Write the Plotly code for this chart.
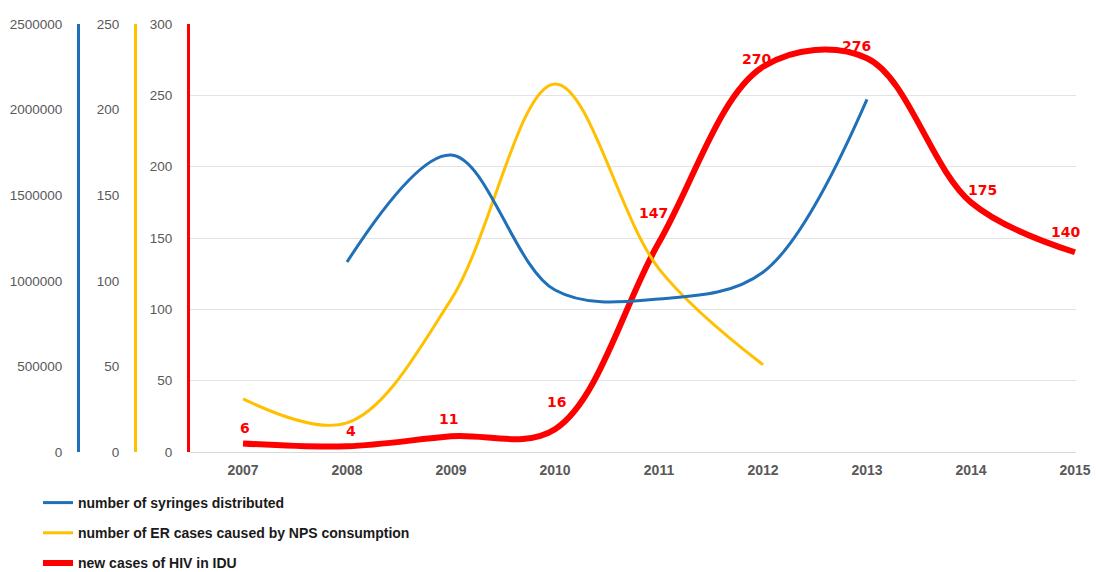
import plotly.graph_objects as go

years = [2007, 2008, 2009, 2010, 2011, 2012, 2013, 2014, 2015]
syringes = [None, 1110000, 1735000, 946000, 894000, 1050000, 2060000, None, None]
er_cases = [31, 17, 89, 215, 107, 51, None, None, None]
hiv_cases = [6, 4, 11, 16, 147, 270, 276, 175, 140]

# label offsets (pixels) for the red data labels
label_dx = [2, 4, -3, 1, -6, -6, -10, 12, -9]
label_dy = [15, 15, 17, 27, 29, 8, 12, 12, 20]

names = ["number of syringes distributed",
         "number of ER cases caused by NPS consumption",
         "new cases of HIV in IDU"]

BLUE = "#1F70B8"
YELLOW = "#FFC000"
RED = "#FF0000"
GREY = "#595959"

fig = go.Figure()
fig.add_trace(go.Scatter(x=years, y=syringes, name=names[0], yaxis="y3", mode="lines",
                         line=dict(color=BLUE, width=3, shape="spline"),
                         connectgaps=False, legendgroup="a"))
fig.add_trace(go.Scatter(x=years, y=er_cases, name=names[1], yaxis="y2", mode="lines",
                         line=dict(color=YELLOW, width=3, shape="spline"),
                         legendgroup="b"))
fig.add_trace(go.Scatter(x=years, y=hiv_cases, name=names[2], yaxis="y", mode="lines",
                         line=dict(color=RED, width=6, shape="spline"),
                         legendgroup="c"))

for x, y, dx, dy in zip(years, hiv_cases, label_dx, label_dy):
    fig.add_annotation(x=x, y=y, xref="x", yref="y", text=str(y), showarrow=False,
                       xshift=dx, yshift=dy,
                       font=dict(family="DejaVu Sans", size=14, color=RED, weight="bold"))

tickfont = dict(family="Liberation Sans", size=13.5, color=GREY)

fig.update_layout(
    width=1096, height=572,
    margin=dict(l=0, r=0, t=24, b=120, autoexpand=False),
    paper_bgcolor="white", plot_bgcolor="white",
    showlegend=True,
    xaxis=dict(domain=[190 / 1096, 1076 / 1096], range=[2006.49, 2015.01],
               tickmode="array", tickvals=years, ticktext=[str(y) for y in years],
               showgrid=False, showline=False, zeroline=False, ticks="", automargin=False,
               tickfont=dict(family="Liberation Sans", size=14, color=GREY, weight="bold"),
               ticklabelstandoff=8),
    yaxis=dict(range=[0, 300], dtick=50, showgrid=True, gridcolor="#E3E3E3", gridwidth=1,
               zeroline=True, zerolinecolor="#D9D9D9", zerolinewidth=1, automargin=False,
               showline=True, linecolor=RED, linewidth=3, ticks="",
               tickfont=tickfont, ticklabelstandoff=12),
    yaxis2=dict(range=[0, 250], dtick=50, overlaying="y", anchor="free", side="left",
                position=135 / 1096, showgrid=False, zeroline=False, automargin=False,
                showline=True, linecolor=YELLOW, linewidth=3, ticks="",
                tickfont=tickfont, ticklabelstandoff=12),
    yaxis3=dict(range=[0, 2500000], dtick=500000, overlaying="y", anchor="free", side="left",
                position=78 / 1096, showgrid=False, zeroline=False, tickformat=".0f",
                automargin=False,
                showline=True, linecolor=BLUE, linewidth=3, ticks="",
                tickfont=tickfont, ticklabelstandoff=12),
    legend=dict(orientation="v", x=38 / 1096, xanchor="left", yref="container",
                y=1 - 487 / 572, yanchor="top", tracegroupgap=9,
                font=dict(family="Liberation Sans", size=14, color="#1a1a1a", weight="bold"),
                itemwidth=30, bgcolor="rgba(0,0,0,0)"),
)

fig.write_html("out.html")
